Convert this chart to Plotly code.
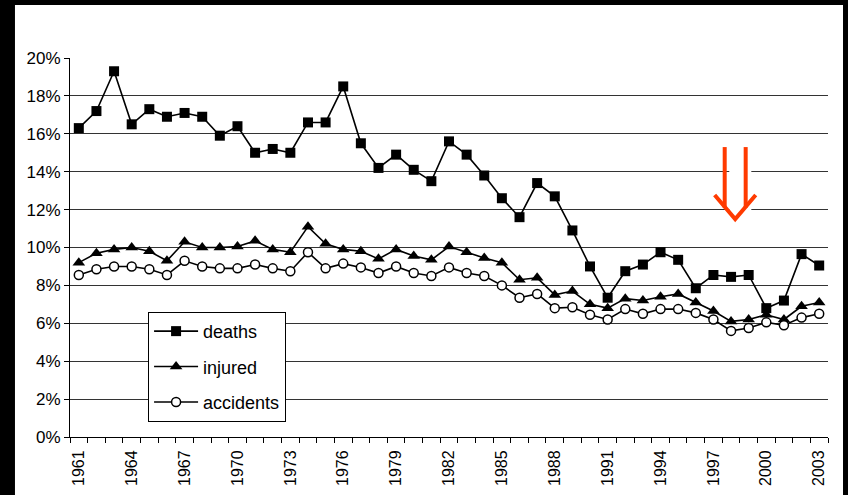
import plotly.graph_objects as go

# Share of road-traffic totals per year (%)
years = list(range(1961, 2004))

deaths = [16.3, 17.2, 19.3, 16.5, 17.3, 16.9, 17.1, 16.9, 15.9, 16.4,
          15.0, 15.2, 15.0, 16.6, 16.6, 18.5, 15.5, 14.2, 14.9, 14.1,
          13.5, 15.6, 14.9, 13.8, 12.6, 11.6, 13.4, 12.7, 10.9, 9.0,
          7.35, 8.75, 9.1, 9.75, 9.35, 7.85, 8.55, 8.45, 8.55, 6.8,
          7.2, 9.65, 9.05]

injured = [9.2, 9.7, 9.9, 10.0, 9.8, 9.3, 10.3, 10.0, 10.0, 10.05,
           10.35, 9.9, 9.75, 11.1, 10.2, 9.9, 9.8, 9.4, 9.9, 9.55,
           9.35, 10.05, 9.75, 9.45, 9.2, 8.3, 8.4, 7.5, 7.7, 7.0,
           6.8, 7.3, 7.2, 7.4, 7.55, 7.1, 6.65, 6.1, 6.2, 6.45,
           6.2, 6.9, 7.1]

accidents = [8.55, 8.85, 9.0, 9.0, 8.85, 8.55, 9.3, 9.0, 8.9, 8.9,
             9.1, 8.9, 8.75, 9.75, 8.9, 9.15, 8.95, 8.65, 9.0, 8.65,
             8.5, 8.95, 8.65, 8.5, 8.0, 7.35, 7.55, 6.8, 6.85, 6.45,
             6.2, 6.75, 6.5, 6.75, 6.75, 6.55, 6.2, 5.6, 5.75, 6.05,
             5.9, 6.3, 6.5]

tick_years = list(range(1961, 2004, 3))

FONT = "Liberation Sans, Arial, sans-serif"
ARROW = "#ff3a00"

fig = go.Figure()

fig.add_trace(go.Scatter(
    x=years, y=deaths, name="deaths", mode="lines+markers",
    line=dict(color="black", width=1.6),
    marker=dict(symbol="square", size=10, color="black"),
    legendgroup="d",
))
fig.add_trace(go.Scatter(
    x=years, y=injured, name="injured", mode="lines+markers",
    line=dict(color="black", width=1.6),
    marker=dict(symbol="triangle-up", size=11, color="black"),
    legendgroup="i",
))
fig.add_trace(go.Scatter(
    x=years, y=accidents, name="accidents", mode="lines+markers",
    line=dict(color="black", width=1.6),
    marker=dict(symbol="circle", size=9, color="white",
                line=dict(color="black", width=1.5)),
    legendgroup="a",
))

shapes = [
    # white sheet inside the black frame
    dict(type="rect", xref="paper", yref="paper", layer="below",
         x0=-0.0726, x1=1.0198, y0=-0.4, y1=1.1398,
         fillcolor="white", line=dict(width=0)),
    # white patch behind the arrows
    dict(type="rect", xref="x", yref="y", layer="above",
         x0=1997.9, x1=1999.15, y0=11.6, y1=15.2,
         fillcolor="white", line=dict(width=0)),
    # double down arrow
    dict(type="line", xref="x", yref="y", x0=1997.64, x1=1997.64, y0=15.3, y1=12.1,
         line=dict(color=ARROW, width=4)),
    dict(type="line", xref="x", yref="y", x0=1998.83, x1=1998.83, y0=15.3, y1=12.1,
         line=dict(color=ARROW, width=4)),
    dict(type="path", xref="x", yref="y",
         path="M 1997.07 12.77 L 1998.235 11.5 L 1999.4 12.77",
         line=dict(color=ARROW, width=4)),
]

fig.update_layout(
    width=848, height=495,
    margin=dict(l=70, r=20, t=58, b=58, autoexpand=False),
    paper_bgcolor="black",
    plot_bgcolor="white",
    font=dict(family=FONT, color="black"),
    shapes=shapes,
    showlegend=True,
    legend=dict(
        x=0.103, y=0.33, xanchor="left", yanchor="top",
        bgcolor="white", bordercolor="black", borderwidth=1,
        font=dict(size=18, family=FONT, color="black"),
        traceorder="grouped", tracegroupgap=9,
        itemwidth=44,
    ),
    xaxis=dict(
        range=[1960.5, 2003.5],
        tickmode="array", tickvals=tick_years,
        ticktext=[str(y) for y in tick_years],
        tickangle=-90,
        tickfont=dict(size=16, family=FONT, color="black"),
        ticks="outside", ticklen=0,
        ticklabelstandoff=6,
        minor=dict(tick0=1960.5, dtick=1, ticks="outside", ticklen=5,
                   tickcolor="black", showgrid=False),
        showgrid=False, zeroline=False,
        showline=True, linecolor="black", linewidth=1,
        automargin=False,
        fixedrange=True,
    ),
    yaxis=dict(
        range=[0, 20], dtick=2, tick0=0,
        ticksuffix="%",
        tickfont=dict(size=17, family=FONT, color="black"),
        ticks="outside", ticklen=5, tickcolor="black",
        showgrid=True, gridcolor="#333333", gridwidth=1,
        zeroline=False,
        showline=True, linecolor="black", linewidth=1,
        automargin=False,
        fixedrange=True,
    ),
)

fig.write_html("out.html")
